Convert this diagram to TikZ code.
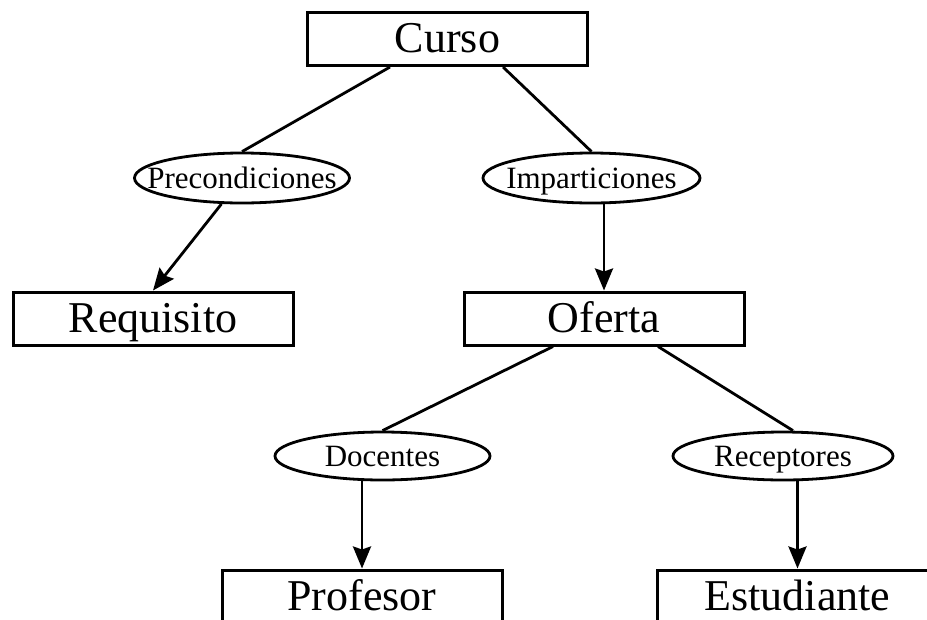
\documentclass[tikz,border=0pt]{standalone}
\usepackage{fontspec}
\setmainfont{Liberation Serif}
\usetikzlibrary{shapes.geometric,arrows.meta}

\tikzset{
  entity/.style={draw, line width=3pt, rectangle, minimum width=280pt,
    minimum height=53pt, inner sep=0pt, text height=32pt, text depth=5pt,
    font=\fontsize{44}{50}\selectfont},
  relation/.style={draw, line width=2.8pt, ellipse, minimum width=215pt,
    minimum height=50pt, inner sep=0pt, text height=23pt, text depth=3pt,
    font=\fontsize{31}{36}\selectfont},
  link/.style={line width=2.8pt},
  arrowlink/.style={line width=2.8pt, -{Stealth[length=22pt,width=18pt,inset=3pt]}}
}

\begin{document}
\begin{tikzpicture}[x=1pt,y=-1pt]
  \useasboundingbox (0,0) rectangle (927,619);
  \clip (0,0) rectangle (927,619);
  \fill[white] (0,0) rectangle (927,619);

  % entities
  \node[entity] (curso) at (447.5,39) {Curso};
  \node[entity] (requisito) at (153,318.5) {Requisito};
  \node[entity] (oferta) at (604,318.5) {Oferta};
  \node[entity] (profesor) at (362,596.5) {Profesor};
  \node[entity] (estudiante) at (797.5,596.5) {Estudiante};

  % relations
  \node[relation] (precond) at (242,178) {\makebox[0pt]{Precondiciones}};
  \node[relation, minimum width=217pt] (impart) at (591.5,178) {\makebox[0pt]{Imparticiones}};
  \node[relation, minimum height=48pt] (docentes) at (382.5,456) {\makebox[0pt]{Docentes}};
  \node[relation, minimum width=220pt, minimum height=48pt] (receptores) at (783,456) {\makebox[0pt]{Receptores}};

  % connectors
  \draw[link] ([xshift=-57.5pt]curso.south) -- (precond.north);
  \draw[link] ([xshift=55.5pt]curso.south) -- (impart.north);
  \draw[arrowlink] (precond) -- (requisito.north);
  \draw[arrowlink] (impart.south -| oferta.north) -- (oferta.north);

  \draw[link] ([xshift=-51pt]oferta.south) -- (docentes.north);
  \draw[link] ([xshift=54pt]oferta.south) -- ([xshift=10pt]receptores.north);
  \draw[arrowlink] (docentes.south -| profesor.north) -- (profesor.north);
  \draw[arrowlink] (receptores.south -| estudiante.north) -- (estudiante.north);
\end{tikzpicture}
\end{document}
